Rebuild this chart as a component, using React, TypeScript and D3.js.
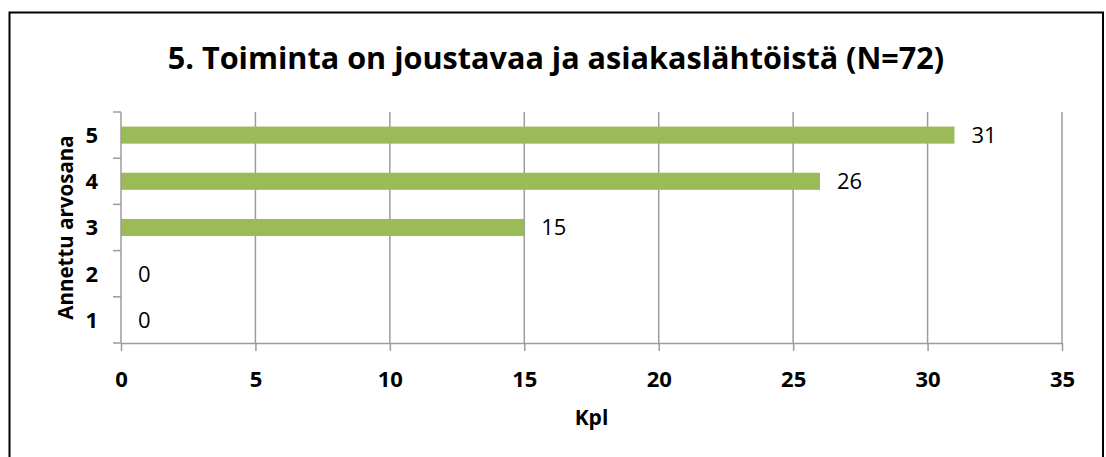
import { useEffect, useRef } from 'react';
import * as d3 from 'd3';

const categories = ['5', '4', '3', '2', '1'];
const counts = [31, 26, 15, 0, 0];
const xTicks = [0, 5, 10, 15, 20, 25, 30, 35];

const title = '5. Toiminta on joustavaa ja asiakaslähtöistä (N=72)';
const xTitle = 'Kpl';
const yTitle = 'Annettu arvosana';

const W = 1106;
const H = 457;

export default function App() {
  const svgRef = useRef<SVGSVGElement>(null);

  useEffect(() => {
    if (!svgRef.current) return;
    const svg = d3.select(svgRef.current);
    svg.selectAll('*').remove();

    const margin = { top: 112, right: 44, bottom: 114, left: 121 };
    const width = W - margin.left - margin.right;
    const plotH = H - margin.top - margin.bottom;
    const font = '"Open Sans", Lato, sans-serif';
    const gridColor = '#9c9c9c';

    svg.append('rect').attr('width', W).attr('height', H).attr('fill', '#fff');

    // chart frame (bottom edge lies outside the picture)
    svg
      .append('path')
      .attr('d', `M9.5,${H + 5}V12.5H1103V${H + 5}`)
      .attr('fill', 'none')
      .attr('stroke', '#000')
      .attr('stroke-width', 2);

    svg
      .append('text')
      .attr('x', 556)
      .attr('y', 69)
      .attr('text-anchor', 'middle')
      .attr('font-family', font)
      .attr('font-weight', 700)
      .attr('font-size', 30.6)
      .attr('fill', '#000')
      .text(title);

    const g = svg.append('g').attr('transform', `translate(${margin.left},${margin.top})`);

    const x = d3.scaleLinear().domain([0, 35]).range([0, width]);
    const y = d3.scaleBand<string>().domain(categories).range([0, plotH]).padding(0);
    const barH = y.bandwidth() * 0.37;

    // vertical gridlines
    g.selectAll('.grid')
      .data(xTicks.slice(1))
      .join('line')
      .attr('x1', (d) => x(d))
      .attr('x2', (d) => x(d))
      .attr('y1', 0)
      .attr('y2', plotH)
      .attr('stroke', gridColor)
      .attr('stroke-width', 1.5);

    // bars
    g.selectAll('.bar')
      .data(categories)
      .join('rect')
      .attr('x', 0)
      .attr('y', (c) => y(c)! + (y.bandwidth() - barH) / 2)
      .attr('width', (c, i) => x(counts[i]))
      .attr('height', barH)
      .attr('fill', '#9bbb59');

    // value labels
    g.selectAll('.val')
      .data(categories)
      .join('text')
      .attr('x', (c, i) => x(counts[i]) + 17)
      .attr('y', (c) => y(c)! + y.bandwidth() / 2)
      .attr('dy', '0.36em')
      .attr('font-family', font)
      .attr('font-size', 22)
      .attr('fill', '#000')
      .text((c, i) => String(counts[i]));

    // x axis
    const xAxis = g
      .append('g')
      .attr('transform', `translate(0,${plotH})`)
      .call(d3.axisBottom(x).tickValues(xTicks).tickSize(8).tickSizeOuter(0).tickPadding(20));
    xAxis.select('.domain').attr('stroke', gridColor).attr('stroke-width', 1.5);
    xAxis.selectAll('.tick line').attr('stroke', gridColor).attr('stroke-width', 1.5);
    xAxis
      .selectAll('.tick text')
      .attr('font-family', font)
      .attr('font-weight', 700)
      .attr('font-size', 22)
      .attr('fill', '#000');

    // y axis line and ticks at category boundaries
    g.append('line')
      .attr('x1', 0)
      .attr('x2', 0)
      .attr('y1', 0)
      .attr('y2', plotH)
      .attr('stroke', gridColor)
      .attr('stroke-width', 1.5);
    const bounds = categories.map((c) => y(c)!).concat([plotH]);
    g.selectAll('.ytick')
      .data(bounds)
      .join('line')
      .attr('x1', -8)
      .attr('x2', 0)
      .attr('y1', (d) => d)
      .attr('y2', (d) => d)
      .attr('stroke', gridColor)
      .attr('stroke-width', 1.5);

    g.selectAll('.ylab')
      .data(categories)
      .join('text')
      .attr('x', -23)
      .attr('y', (c) => y(c)! + y.bandwidth() / 2)
      .attr('dy', '0.36em')
      .attr('text-anchor', 'end')
      .attr('font-family', font)
      .attr('font-weight', 700)
      .attr('font-size', 22)
      .attr('fill', '#000')
      .text((c) => c);

    // axis titles
    g.append('text')
      .attr('x', width / 2)
      .attr('y', plotH + 82)
      .attr('text-anchor', 'middle')
      .attr('font-family', font)
      .attr('font-weight', 700)
      .attr('font-size', 21)
      .attr('fill', '#000')
      .text(xTitle);

    g.append('text')
      .attr('transform', `translate(${73 - margin.left},${plotH / 2}) rotate(-90)`)
      .attr('text-anchor', 'middle')
      .attr('font-family', font)
      .attr('font-weight', 700)
      .attr('font-size', 20.5)
      .attr('fill', '#000')
      .text(yTitle);
  }, []);

  return (
    <div style={{ position: 'fixed', left: 0, top: 0 }}>
      <svg ref={svgRef} width={W} height={H} style={{ display: 'block' }} />
    </div>
  );
}
